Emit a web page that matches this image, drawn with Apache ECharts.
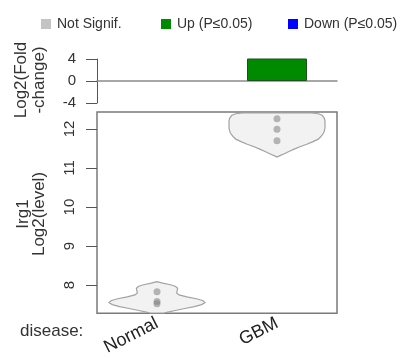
<!DOCTYPE html>
<html>
<head>
<meta charset="utf-8">
<script src="https://cdn.jsdelivr.net/npm/echarts@6/dist/echarts.min.js"></script>
<style>
  html, body { margin: 0; padding: 0; background: #fff; }
  #chart { width: 403px; height: 358px; }
</style>
</head>
<body>
<div id="chart"></div>
<script>
// Groups compared
const categories = ['Normal', 'GBM'];

// Log2 fold change per group (reference group has none) and its significance class
const foldChange = [null, 4.25];
const significance = [null, 'Up (P≤0.05)'];

// Significance classes and their colours
const classNames = ['Not Signif.', 'Up (P≤0.05)', 'Down (P≤0.05)'];
const classColors = ['#c4c4c4', '#008a00', '#0000ff'];
const classBorders = ['#9a9a9a', '#1f4f1f', '#00008a'];

// Individual Log2 expression levels per group
const normalLevels = [7.83, 7.58, 7.52];
const gbmLevels = [12.26, 11.99, 11.70];

// Violin outlines: [Log2 level, relative half-width]
const normalViolin = [
  [8.09, 0.00], [8.05, 0.12], [8.01, 0.28], [7.97, 0.38], [7.92, 0.43],
  [7.86, 0.42], [7.80, 0.41], [7.75, 0.46], [7.70, 0.62], [7.65, 0.82],
  [7.60, 0.96], [7.55, 1.00], [7.50, 0.93], [7.45, 0.78], [7.40, 0.58],
  [7.35, 0.38], [7.30, 0.20], [7.285, 0.14]
];
const gbmViolin = [
  [12.41, 0.72], [12.39, 0.86], [12.35, 0.94], [12.28, 0.985], [12.20, 1.00],
  [12.03, 1.00], [11.92, 0.98], [11.86, 0.95], [11.80, 0.91], [11.74, 0.86],
  [11.67, 0.74], [11.61, 0.62], [11.55, 0.49], [11.49, 0.37], [11.43, 0.26],
  [11.36, 0.14], [11.31, 0.05], [11.28, 0.00]
];
const violins = [normalViolin, gbmViolin];

// Axis ranges and tick labels
const levelRange = [7.278, 12.435];
const levelTicks = [8, 9, 10, 11, 12];
const foldRange = [-4, 4];
const foldTickStep = 4;

const FONT = '"Liberation Sans", Arial, Helvetica, sans-serif';
const TEXT = '#333';

const chart = echarts.init(document.getElementById('chart'), null, { renderer: 'canvas' });

const barSeries = classNames.map((name, k) => ({
  name,
  type: 'bar',
  xAxisIndex: 0,
  yAxisIndex: 0,
  barWidth: '50%',
  barGap: '-100%',
  data: foldChange.map((v, i) => (significance[i] === name ? v : null)),
  itemStyle: { color: classColors[k], borderColor: classBorders[k], borderWidth: 1 },
  silent: true
}));

const option = {
  animation: false,
  textStyle: { fontFamily: FONT },
  legend: classNames.map((name, k) => ({
    data: [name],
    left: [36, 156, 283][k],
    top: 12,
    icon: 'rect',
    itemWidth: 10,
    itemHeight: 10,
    itemGap: 0,
    selectedMode: false,
    itemStyle: { borderWidth: 0 },
    textStyle: { fontFamily: FONT, fontSize: 14, color: TEXT, padding: [0, 0, 0, 1] }
  })),
  grid: [
    { left: 97, width: 240, top: 59, height: 44 },
    { left: 97, width: 240, top: 112, height: 205, show: true,
      borderColor: '#7a7a7a', borderWidth: 1.5, backgroundColor: 'transparent' }
  ],
  xAxis: [
    {
      type: 'category', gridIndex: 0, data: categories,
      axisLine: { onZero: true, lineStyle: { color: '#8a8a8a', width: 1.5 } },
      axisTick: { show: false }, axisLabel: { show: false }
    },
    {
      type: 'category', gridIndex: 1, data: categories,
      axisLine: { show: false }, axisTick: { show: false },
      axisLabel: { rotate: 27, margin: 9, fontSize: 18, color: '#222', fontFamily: FONT }
    }
  ],
  yAxis: [
    {
      type: 'value', gridIndex: 0, min: foldRange[0], max: foldRange[1], interval: foldTickStep,
      splitLine: { show: false },
      axisLine: { show: true, lineStyle: { color: '#555', width: 1 } },
      axisTick: { show: true, length: 11, lineStyle: { color: '#555', width: 1 } },
      axisLabel: { margin: 21, fontSize: 15, color: TEXT, fontFamily: FONT }
    },
    {
      type: 'value', gridIndex: 1, min: levelRange[0], max: levelRange[1],
      splitLine: { show: false },
      axisLine: { show: false },
      axisTick: { show: true, length: 11, customValues: levelTicks, lineStyle: { color: '#555', width: 1 } },
      axisLabel: { customValues: levelTicks, rotate: 90, margin: 20, fontSize: 15, color: TEXT, fontFamily: FONT }
    }
  ],
  graphic: [
    { type: 'text', x: 30, y: 80, rotation: Math.PI / 2,
      style: { text: 'Log2(Fold\n-change)', font: '17px ' + FONT, fill: TEXT,
        align: 'center', verticalAlign: 'middle', lineHeight: 18 } },
    { type: 'text', x: 31, y: 214, rotation: Math.PI / 2,
      style: { text: 'Irg1\nLog2(level)', font: '17px ' + FONT, fill: TEXT,
        align: 'center', verticalAlign: 'middle', lineHeight: 16 } },
    { type: 'text', x: 20, y: 331,
      style: { text: 'disease:', font: '17px ' + FONT, fill: TEXT,
        align: 'left', verticalAlign: 'middle' } }
  ],
  series: barSeries.concat([
    {
      type: 'custom',
      name: 'violin',
      xAxisIndex: 1,
      yAxisIndex: 1,
      silent: true,
      data: categories.map((c, i) => [i, violins[i][0][0]]),
      renderItem: function (params, api) {
        const ci = api.value(0);
        const prof = violins[ci];
        const half = api.size([1, 0])[0] * 0.4;
        const left = [], right = [];
        prof.forEach(([lvl, w]) => {
          const p = api.coord([ci, lvl]);
          left.push([p[0] - w * half, p[1]]);
          right.push([p[0] + w * half, p[1]]);
        });
        return {
          type: 'polygon',
          shape: { points: left.concat(right.reverse()) },
          style: { fill: '#f2f2f2', stroke: '#a2a2a2', lineWidth: 1.2 }
        };
      }
    },
    {
      type: 'scatter',
      name: 'samples',
      xAxisIndex: 1,
      yAxisIndex: 1,
      silent: true,
      symbolSize: 7,
      itemStyle: { color: 'rgba(120,120,120,0.65)' },
      data: normalLevels.map(v => [0, v]).concat(gbmLevels.map(v => [1, v]))
    }
  ])
};

chart.setOption(option);
</script>
</body>
</html>
